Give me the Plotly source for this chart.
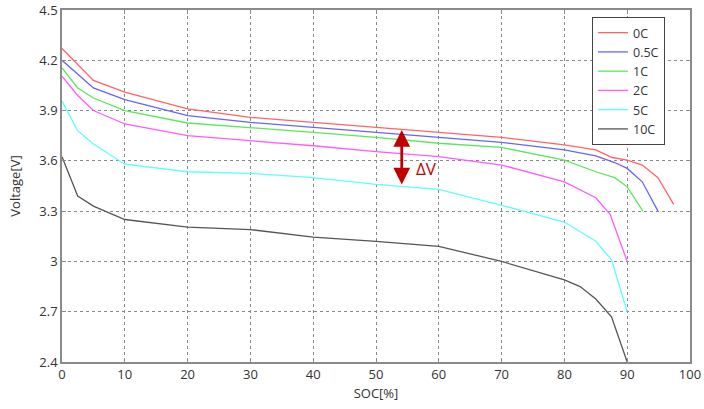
import plotly.graph_objects as go

# ---- data ----
names = ["0C", "0.5C", "1C", "2C", "5C", "10C"]

soc_0c = [0, 5, 10, 20, 30, 40, 50, 60, 70, 80, 85, 87.6, 90, 92.4, 94.9, 97.4]
v_0c = [4.27, 4.08, 4.01, 3.91, 3.86, 3.83, 3.80, 3.77, 3.74, 3.695, 3.665, 3.62, 3.605, 3.575, 3.50, 3.34]

soc_05c = [0, 5, 10, 20, 30, 40, 50, 60, 70, 80, 85, 88, 90, 92.4, 94.9]
v_05c = [4.20, 4.035, 3.965, 3.87, 3.83, 3.80, 3.77, 3.74, 3.71, 3.665, 3.63, 3.59, 3.555, 3.475, 3.30]

soc_1c = [0, 2.5, 5, 10, 20, 30, 40, 50, 60, 70, 80, 85, 88, 90, 92.5]
v_1c = [4.155, 4.035, 3.975, 3.90, 3.826, 3.80, 3.77, 3.74, 3.705, 3.68, 3.605, 3.535, 3.50, 3.445, 3.30]

soc_2c = [0, 2.5, 5, 10, 20, 30, 40, 50, 60, 70, 80, 85, 87.3, 90]
v_2c = [4.105, 3.99, 3.90, 3.82, 3.75, 3.72, 3.69, 3.655, 3.625, 3.575, 3.475, 3.38, 3.28, 3.0]

soc_5c = [0, 2.5, 5, 10, 20, 30, 40, 50, 60, 70, 80, 85, 87.5, 90]
v_5c = [3.957, 3.78, 3.70, 3.58, 3.535, 3.525, 3.50, 3.46, 3.43, 3.335, 3.235, 3.12, 3.01, 2.70]

soc_10c = [0, 2.5, 5, 10, 20, 30, 40, 50, 60, 70, 80, 82.5, 85, 87.5, 90]
v_10c = [3.625, 3.39, 3.33, 3.25, 3.205, 3.19, 3.145, 3.12, 3.09, 3.0, 2.89, 2.85, 2.776, 2.67, 2.40]

x_ticks = [0, 10, 20, 30, 40, 50, 60, 70, 80, 90, 100]
y_ticks = [2.4, 2.7, 3.0, 3.3, 3.6, 3.9, 4.2, 4.5]
y_ticktext = ["2.4", "2.7", "3", "3.3", "3.6", "3.9", "4.2", "4.5"]

dv_soc = 54.1
dv_low, dv_high = 3.45, 3.784
dv_label = "ΔV"
dv_label_soc, dv_label_v = 56.0, 3.554

colors = ["#ff6464", "#6464ff", "#5ae85a", "#ff5aff", "#5affff", "#555555"]

series = [(soc_0c, v_0c), (soc_05c, v_05c), (soc_1c, v_1c),
          (soc_2c, v_2c), (soc_5c, v_5c), (soc_10c, v_10c)]

FONT = "Open Sans"
TXT = "#333333"

fig = go.Figure()
for (xs, ys), name, col in zip(series, names, colors):
    fig.add_trace(go.Scatter(x=xs, y=ys, mode="lines", name=name,
                             line=dict(color=col, width=1.3)))

# delta V double arrow
fig.add_annotation(x=dv_soc, y=dv_high, ax=dv_soc, ay=dv_low,
                   xref="x", yref="y", axref="x", ayref="y",
                   showarrow=True, arrowside="end+start", arrowhead=2,
                   arrowsize=1.2, arrowwidth=2.8, arrowcolor="#c00000", text="")
fig.add_annotation(x=dv_label_soc, y=dv_label_v, xref="x", yref="y", text=dv_label,
                   showarrow=False, xanchor="left", yanchor="middle",
                   font=dict(color="#c00000", size=17, family=FONT))

axis_common = dict(showline=True, linecolor="#8a8a8a", linewidth=1.5, mirror="allticks",
                   ticks="inside", ticklen=4, tickcolor="#8a8a8a",
                   showgrid=True, gridcolor="#8a8a8a", griddash="dot", gridwidth=1,
                   zeroline=False, automargin=False,
                   tickfont=dict(size=13, color=TXT, family=FONT))

fig.update_xaxes(range=[0, 100], tickvals=x_ticks,
                 title=dict(text="SOC[%]", font=dict(size=13, color=TXT, family=FONT), standoff=7),
                 **axis_common)
fig.update_yaxes(range=[2.4, 4.5], tickvals=y_ticks, ticktext=y_ticktext,
                 title=dict(text="Voltage[V]", font=dict(size=13, color=TXT, family=FONT), standoff=16),
                 **axis_common)

fig.update_layout(
    width=704, height=409,
    margin=dict(l=62, r=14, t=10, b=47),
    paper_bgcolor="white", plot_bgcolor="white",
    font=dict(family=FONT, color=TXT),
    legend=dict(x=0.844, y=0.98, xanchor="left", yanchor="top",
                bgcolor="white", bordercolor="#444444", borderwidth=1,
                font=dict(size=12.5, color=TXT, family=FONT),
                itemwidth=30, tracegroupgap=0),
    showlegend=True,
)

fig.write_html("out.html")
